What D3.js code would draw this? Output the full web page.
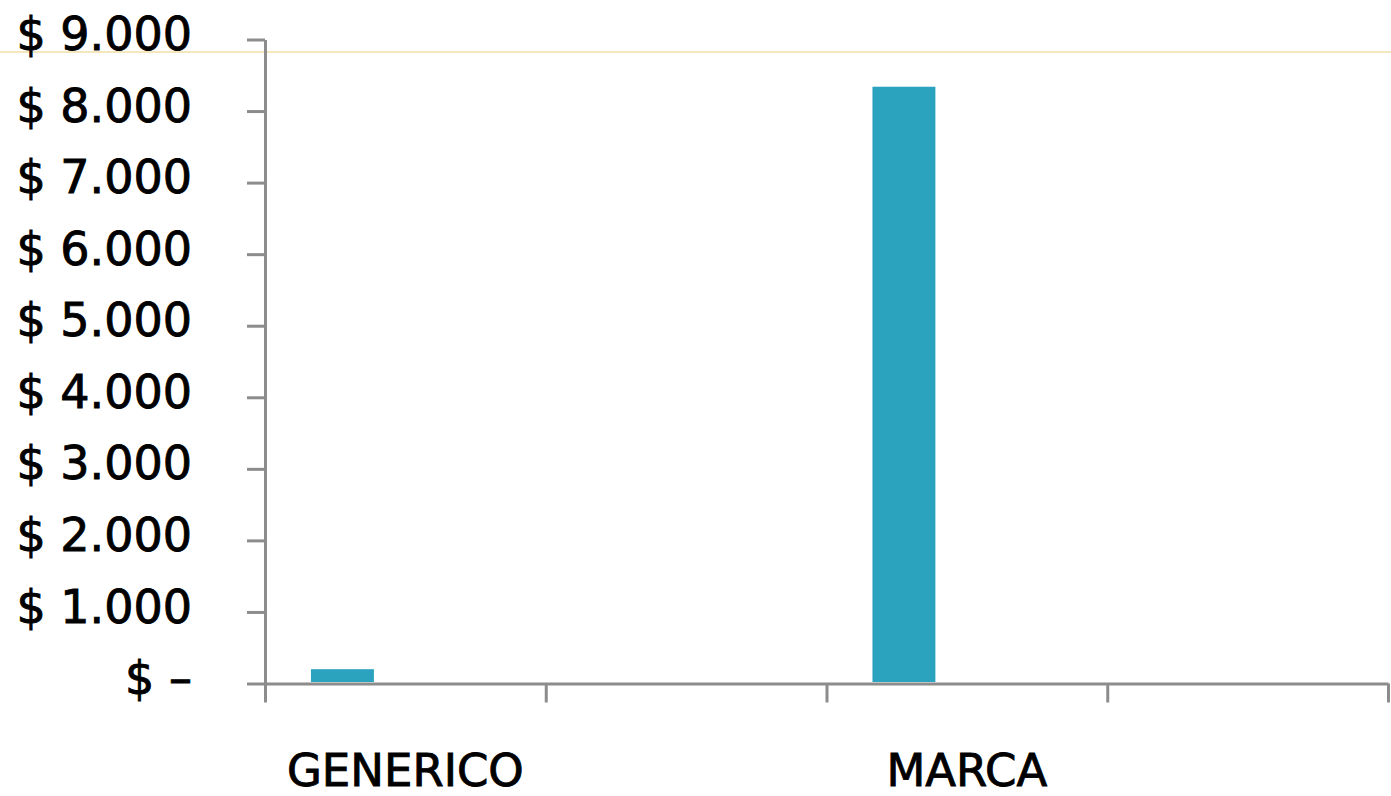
<!DOCTYPE html>
<html>
<head>
<meta charset="utf-8">
<script src="https://cdn.jsdelivr.net/npm/d3@7"></script>
<style>
  body { margin: 0; background: #fff; }
  svg text { font-family: "DejaVu Sans", Verdana, sans-serif; fill: #000; stroke: #000; stroke-width: 0.9px; }
</style>
</head>
<body>
<div id="chart"></div>
<script>
// categories (every other slot is unlabeled in the original)
var categories = ["GENERICO", "", "MARCA", ""];
var seriesNames = ["Serie 1", "Serie 2", "Serie 3"];
var serie1 = [200, 0, 8340, 0];
var serie2 = [null, null, null, null];
var serie3 = [null, null, null, null];
var yTicks = [0, 1000, 2000, 3000, 4000, 5000, 6000, 7000, 8000, 9000];

var width = 1391, height = 796;
var margin = {top: 39.5, right: 3, bottom: 112.5, left: 265};

var svg = d3.select("#chart").append("svg")
    .attr("width", width)
    .attr("height", height);

// stray light rule across the top
svg.append("line")
    .attr("x1", 0).attr("x2", width)
    .attr("y1", 52).attr("y2", 52)
    .attr("stroke", "#f1dfa6")
    .attr("stroke-width", 1.5);

var y = d3.scaleLinear()
    .domain([0, 9000])
    .range([height - margin.bottom, margin.top]);

var x0 = d3.scaleBand()
    .domain(d3.range(categories.length))
    .range([margin.left, width - margin.right])
    .padding(0);

var x1 = d3.scaleBand()
    .domain(seriesNames)
    .range([0, x0.bandwidth()])
    .paddingInner(0)
    .paddingOuter(0.73);

var xEdge = d3.scaleLinear()
    .domain([0, categories.length])
    .range([margin.left, width - margin.right]);

var locale = d3.formatLocale({decimal: ",", thousands: ".", grouping: [3], currency: ["$", ""]});
var fmt = locale.format(",.0f");

// y axis
var yAxis = svg.append("g")
    .attr("transform", "translate(" + margin.left + ",0)")
    .call(d3.axisLeft(y)
        .tickValues(yTicks)
        .tickSize(18)
        .tickSizeOuter(0)
        .tickPadding(55)
        .tickFormat(function(d){ return d === 0 ? "$ \u2013" : "$ " + fmt(d); }));

yAxis.selectAll("text")
    .attr("font-size", 46)
    .attr("dy", "0.22em");

// x axis: ticks at category edges
var xAxis = svg.append("g")
    .attr("transform", "translate(0," + y(0) + ")")
    .call(d3.axisBottom(xEdge)
        .ticks(categories.length)
        .tickSize(19)
        .tickSizeOuter(0)
        .tickFormat(""));

svg.selectAll(".domain, .tick line")
    .attr("stroke", "#8c8c8c")
    .attr("stroke-width", 3);

// category labels
svg.append("g").selectAll("text")
    .data(categories)
    .enter()
    .append("text")
    .attr("x", function(d, i){ return x0(i) + x0.bandwidth() / 2; })
    .attr("y", 786)
    .attr("text-anchor", "middle")
    .attr("font-size", 45)
    .text(function(d){ return d; });

// bars
var allSeries = [serie1, serie2, serie3];
var barData = [];
allSeries.forEach(function(vals, s){
    vals.forEach(function(v, i){
        if (v != null && v > 0) barData.push({cat: i, series: seriesNames[s], value: v});
    });
});

svg.append("g").selectAll("rect")
    .data(barData)
    .enter()
    .append("rect")
    .attr("x", function(d){ return x0(d.cat) + x1(d.series); })
    .attr("y", function(d){ return y(d.value); })
    .attr("width", x1.bandwidth())
    .attr("height", function(d){ return y(0) - y(d.value) - 1.5; })
    .attr("fill", "#2ca3be");
</script>
</body>
</html>
